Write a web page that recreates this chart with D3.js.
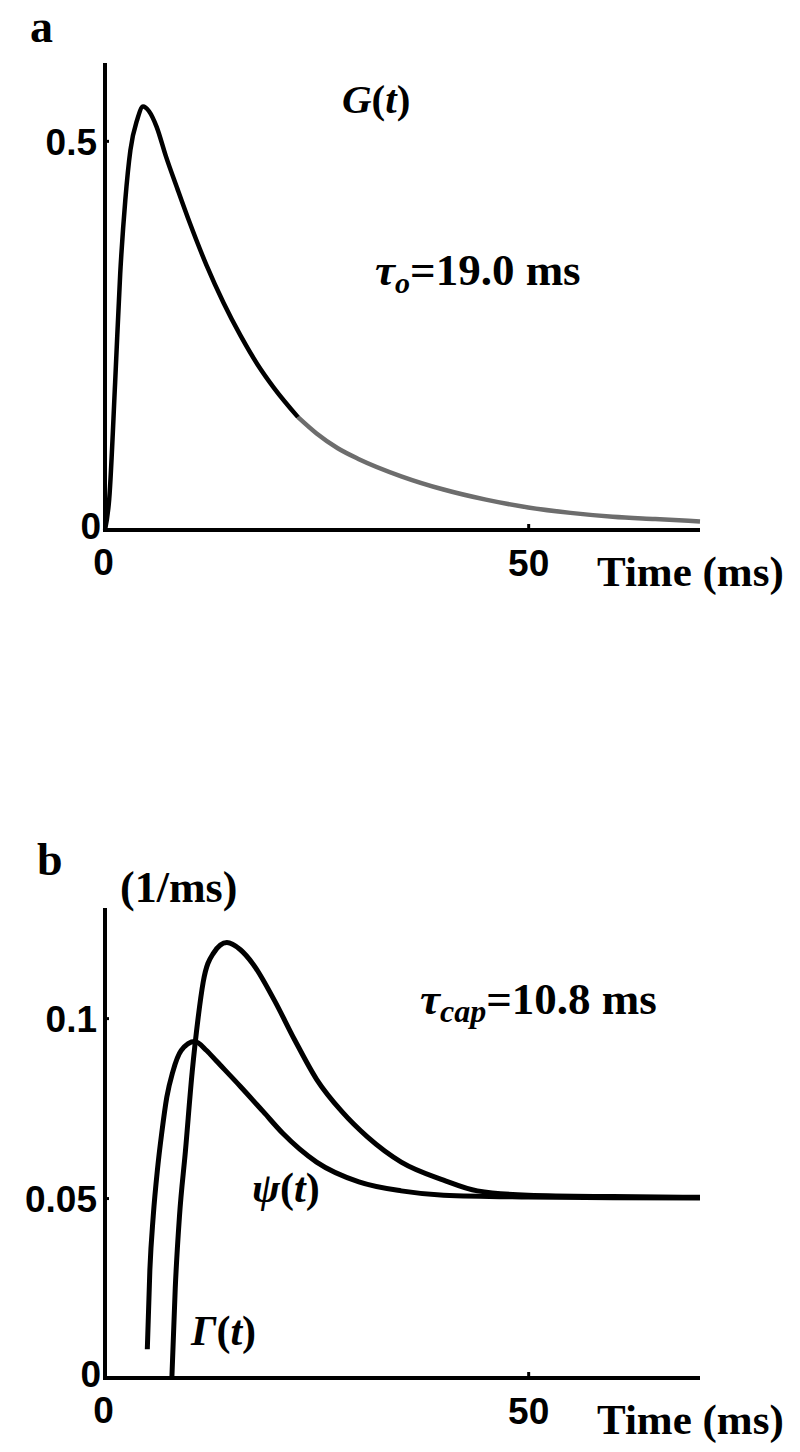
<!DOCTYPE html>
<html>
<head>
<meta charset="utf-8">
<script src="https://cdn.jsdelivr.net/npm/d3@7"></script>
<style>
  body { margin: 0; background: #fff; }
  .num { font-family: "Liberation Sans", Arial, sans-serif; font-weight: bold; }
  .lbl { font-family: "Liberation Serif", "Times New Roman", serif; font-weight: bold; }
</style>
</head>
<body>
<div id="wrapper"></div>
<script>
// panel a: G(t)
const gTime  = [0, 0.5, 1.2, 1.8, 2.4, 3.0, 3.8, 4.5, 5.2, 6.1, 7.2, 8.5, 10, 12, 14, 16, 18, 20, 22.8,
                25, 27.5, 30, 35, 40, 45, 50, 55, 60, 65, 70.3]
const gValue = [0, 0.04, 0.19, 0.33, 0.424, 0.488, 0.527, 0.544, 0.538, 0.518, 0.48, 0.44, 0.395, 0.34, 0.292, 0.25, 0.213, 0.182, 0.145,
                0.124, 0.105, 0.091, 0.069, 0.052, 0.039, 0.029, 0.022, 0.017, 0.014, 0.011]
const gSplit = 22.8

// panel b: psi(t) and Gamma(t)
const psiTime  = [5.0, 5.3, 5.7, 6.2, 6.7, 7.3, 8.0, 9.0, 10.6, 12, 13.2, 16, 18.7, 21, 25, 30, 35, 40, 50, 60, 70.3]
const psiValue = [0.008, 0.03, 0.045, 0.058, 0.068, 0.078, 0.085, 0.091, 0.0935, 0.091, 0.088, 0.081, 0.074, 0.068, 0.060, 0.0545, 0.052, 0.0508, 0.0503, 0.0501, 0.050]
const gamTime  = [7.9, 8.3, 8.8, 9.5, 10.3, 11, 11.6, 12.8, 14.4, 16, 17.5, 20, 22.4, 25, 28, 31, 35, 40, 44, 50, 60, 70.3]
const gamValue = [0, 0.025, 0.045, 0.063, 0.085, 0.100, 0.110, 0.118, 0.121, 0.119, 0.115, 0.105, 0.094, 0.083, 0.074, 0.067, 0.060, 0.055, 0.052, 0.0508, 0.0504, 0.0502]

const xTicks  = [0, 50]
const yTicksA = [0, 0.5]
const yTicksB = [0, 0.05, 0.1]

function drawChart() {

  const width = 800
  const height = 1452

  const svg = d3.select("#wrapper")
    .append("svg")
      .attr("width", width)
      .attr("height", height)

  const panels = [
    { top: 63, bottom: 530, yMax: 0.6, yTicks: yTicksA, yFmt: d => d === 0 ? "0" : "0.5" },
    { top: 908, bottom: 1378, yMax: 0.1306, yTicks: yTicksB, yFmt: d => d === 0 ? "0" : d === 0.05 ? "0.05" : "0.1" },
  ]

  const left = 105
  const right = 700

  const xScale = d3.scaleLinear()
    .domain([0, 70.3])
    .range([0, right - left])

  panels.forEach(p => {
    p.h = p.bottom - p.top
    p.g = svg.append("g").attr("transform", `translate(${left},${p.top})`)
    p.y = d3.scaleLinear().domain([0, p.yMax]).range([p.h, 0])

    const yAxis = p.g.append("g")
      .call(d3.axisLeft(p.y).tickValues(p.yTicks).tickSize(-4).tickSizeOuter(0).tickPadding(8).tickFormat(p.yFmt))
    yAxis.select(".domain").attr("stroke-width", 4).attr("d", `M0,${p.h}V0`)
    yAxis.selectAll(".tick line").attr("stroke-width", 3)
    yAxis.selectAll(".tick text")
      .attr("class", "num")
      .attr("font-size", 37)
      .attr("fill", "#000")
      .attr("dy", "0.36em")
    yAxis.selectAll(".tick").filter(d => d === 0).select("text").attr("x", -4).attr("dy", "0.22em")

    const xAxis = p.g.append("g")
      .attr("transform", `translate(0,${p.h})`)
      .call(d3.axisBottom(xScale).tickValues(xTicks).tickSize(-6).tickSizeOuter(0).tickFormat(d3.format("d")))
    xAxis.select(".domain").attr("stroke-width", 4).attr("d", `M-2,0H${right - left}`)
    xAxis.selectAll(".tick line").attr("stroke-width", 3).attr("opacity", d => d === 0 ? 0 : 1)
    xAxis.selectAll(".tick text")
      .attr("class", "num")
      .attr("font-size", 37)
      .attr("fill", "#000")
      .attr("y", d => d === 0 ? 45 : 46)
      .attr("dy", 0)
      .attr("x", d => d === 0 ? -2 : 0)

    p.g.append("text")
      .attr("class", "lbl")
      .attr("font-size", 43)
      .attr("x", 492)
      .attr("y", p.h + 56)
      .text("Time (ms)")
  })

  // panel a
  const pa = panels[0]
  const lineA = d3.line()
    .x(d => xScale(d[0]))
    .y(d => pa.y(d[1]))
    .curve(d3.curveMonotoneX)
  const gData = gTime.map((t, i) => [t, gValue[i]])

  pa.g.append("path")
    .attr("d", lineA(gData.filter(d => d[0] >= gSplit)))
    .attr("fill", "none")
    .attr("stroke", "#6d6d6d")
    .attr("stroke-width", 4.5)
  pa.g.append("path")
    .attr("d", lineA(gData.filter(d => d[0] <= gSplit)))
    .attr("fill", "none")
    .attr("stroke", "#000")
    .attr("stroke-width", 4.5)
    .attr("stroke-linejoin", "round")

  svg.append("text").attr("class", "lbl").attr("font-size", 46)
    .attr("x", 30).attr("y", 42).text("a")

  const gLbl = svg.append("text").attr("class", "lbl").attr("font-size", 41)
    .attr("x", 342).attr("y", 113)
  gLbl.append("tspan").attr("font-style", "italic").text("G")
  gLbl.append("tspan").text("(")
  gLbl.append("tspan").attr("font-style", "italic").text("t")
  gLbl.append("tspan").text(")")

  const tauA = svg.append("text").attr("class", "lbl").attr("font-size", 45)
    .attr("x", 375).attr("y", 285)
  tauA.append("tspan").attr("font-style", "italic").text("τ")
  tauA.append("tspan").attr("font-style", "italic").attr("font-size", 30).attr("dy", 8).text("o")
  tauA.append("tspan").attr("dy", -8).text("=19.0 ms")

  // panel b
  const pb = panels[1]
  const lineB = d3.line()
    .x(d => xScale(d[0]))
    .y(d => pb.y(d[1]))
    .curve(d3.curveMonotoneX)

  const series = [
    psiTime.map((t, i) => [t, psiValue[i]]),
    gamTime.map((t, i) => [t, gamValue[i]]),
  ]
  pb.g.selectAll(".curve")
    .data(series)
    .join("path")
      .attr("class", "curve")
      .attr("d", lineB)
      .attr("fill", "none")
      .attr("stroke", "#000")
      .attr("stroke-width", 5)
      .attr("stroke-linejoin", "round")

  svg.append("text").attr("class", "lbl").attr("font-size", 46)
    .attr("x", 37).attr("y", 875).text("b")

  svg.append("text").attr("class", "lbl").attr("font-size", 44)
    .attr("x", 120).attr("y", 902).text("(1/ms)")

  const tauB = svg.append("text").attr("class", "lbl").attr("font-size", 45)
    .attr("x", 420).attr("y", 1014)
  tauB.append("tspan").attr("font-style", "italic").text("τ")
  tauB.append("tspan").attr("font-style", "italic").attr("font-size", 32).attr("dy", 8).text("cap")
  tauB.append("tspan").attr("dy", -8).text("=10.8 ms")

  const psiLbl = svg.append("text").attr("class", "lbl").attr("font-size", 42)
    .attr("x", 252).attr("y", 1202)
  psiLbl.append("tspan").attr("font-style", "italic").text("ψ")
  psiLbl.append("tspan").text("(")
  psiLbl.append("tspan").attr("font-style", "italic").text("t")
  psiLbl.append("tspan").text(")")

  const gamLbl = svg.append("text").attr("class", "lbl").attr("font-size", 42)
    .attr("x", 191).attr("y", 1345)
  gamLbl.append("tspan").attr("font-style", "italic").text("Γ")
  gamLbl.append("tspan").text("(")
  gamLbl.append("tspan").attr("font-style", "italic").text("t")
  gamLbl.append("tspan").text(")")
}

drawChart()
</script>
</body>
</html>
